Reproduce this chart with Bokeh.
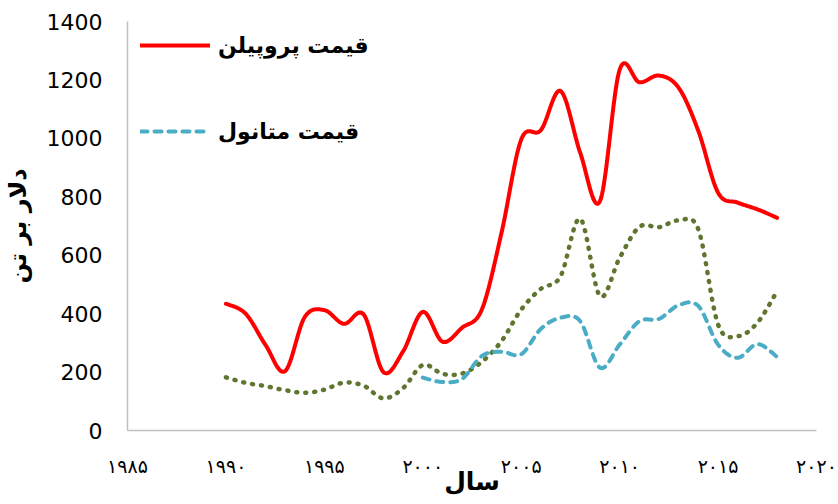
import numpy as np
from bokeh.plotting import figure
from bokeh.models import Range1d, FixedTicker, Legend, LegendItem
from bokeh.embed import file_html
from bokeh.resources import INLINE

# ---- data ----
years = list(range(1990, 2019))
propylene = [434, 400, 294, 203, 388, 412, 365, 397, 200, 271, 406, 304, 352, 414,
             677, 996, 1028, 1162, 950, 785, 1235, 1192, 1215, 1173, 1025, 814, 780, 757, 728]
other = [182, 163, 152, 138, 129, 140, 164, 153, 110, 145, 224, 194, 195, 235,
         306, 414, 485, 528, 725, 460, 591, 697, 696, 719, 688, 363, 323, 369, 477]
methanol_years = list(range(2000, 2019))
methanol = [181, 166, 177, 255, 270, 261, 348, 386, 374, 215, 294, 374, 382, 429, 426,
            294, 249, 296, 252]

x_ticks = [1985, 1990, 1995, 2000, 2005, 2010, 2015, 2020]
x_tick_labels = ["۱۹۸۵", "۱۹۹۰", "۱۹۹۵", "۲۰۰۰", "۲۰۰۵", "۲۰۱۰", "۲۰۱۵", "۲۰۲۰"]
y_ticks = [0, 200, 400, 600, 800, 1000, 1200, 1400]

name_propylene = "قیمت پروپیلن"
name_methanol = "قیمت متانول"
x_title = "سال"
y_title = "دلار بر تن"


def smooth(xs, ys, n=20):
    """Excel-style smoothed line (Bezier through the data points) for drawing."""
    xs = np.asarray(xs, float)
    ys = np.asarray(ys, float)
    N = len(xs)
    ox, oy = [], []
    for i in range(N - 1):
        i0, i3 = max(i - 1, 0), min(i + 2, N - 1)
        p0 = np.array([xs[i0], ys[i0]])
        p1 = np.array([xs[i], ys[i]])
        p2 = np.array([xs[i + 1], ys[i + 1]])
        p3 = np.array([xs[i3], ys[i3]])
        c1 = p1 + (p2 - p0) / 6.0
        c2 = p2 - (p3 - p1) / 6.0
        ts = np.linspace(0, 1, n, endpoint=(i == N - 2))
        for t in ts:
            b = ((1 - t) ** 3) * p1 + 3 * ((1 - t) ** 2) * t * c1 + 3 * (1 - t) * t * t * c2 + t ** 3 * p2
            ox.append(b[0])
            oy.append(b[1])
    return ox, oy


p = figure(width=838, height=504, output_backend="svg", toolbar_location=None,
           x_range=Range1d(1985, 2020), y_range=Range1d(0, 1400),
           min_border_left=127, min_border_right=22, min_border_top=21, min_border_bottom=74)
p.outline_line_color = None
p.grid.grid_line_color = None
p.background_fill_color = "white"
p.border_fill_color = "white"

gx, gy = smooth(years, other)
p.line(gx, gy, line_color="#5F7530", line_width=4.5, line_dash="1 8", line_cap="round")

mx, my = smooth(methanol_years, methanol)
r_meth = p.line(mx, my, line_color="#4BACC6", line_width=4, line_dash="7 7", line_cap="round")

px, py = smooth(years, propylene)
r_prop = p.line(px, py, line_color="#FF0000", line_width=4, line_join="round", line_cap="round")

# axes
xa = p.xaxis[0]
xa.ticker = FixedTicker(ticks=x_ticks)
xa.major_label_overrides = {t: l for t, l in zip(x_ticks, x_tick_labels)}
xa.major_tick_line_color = None
xa.minor_tick_line_color = None
xa.major_tick_out = 0
xa.axis_line_color = "#BFBFBF"
xa.axis_line_width = 1.5
xa.major_label_text_font = "DejaVu Sans"
xa.major_label_text_font_size = "19px"
xa.major_label_text_color = "black"
xa.major_label_standoff = 24
xa.axis_label = x_title
xa.axis_label_text_font = "DejaVu Sans"
xa.axis_label_text_font_style = "bold"
xa.axis_label_text_font_size = "25px"
xa.axis_label_text_color = "black"
xa.axis_label_standoff = -13

ya = p.yaxis[0]
ya.ticker = FixedTicker(ticks=y_ticks)
ya.major_tick_line_color = None
ya.minor_tick_line_color = None
ya.major_tick_out = 0
ya.axis_line_color = "#BFBFBF"
ya.axis_line_width = 1.5
ya.major_label_text_font = "DejaVu Sans"
ya.major_label_text_font_size = "22px"
ya.major_label_text_color = "black"
ya.major_label_standoff = 25
ya.axis_label = y_title
ya.axis_label_text_font = "DejaVu Sans"
ya.axis_label_text_font_style = "bold"
ya.axis_label_text_font_size = "24px"
ya.axis_label_text_color = "black"
ya.axis_label_standoff = 12

legend = Legend(items=[LegendItem(label=name_propylene, renderers=[r_prop]),
                       LegendItem(label=name_methanol, renderers=[r_meth])],
                location=(13, 284))
legend.padding = 0
legend.margin = 0
legend.spacing = 56
legend.glyph_width = 70
legend.glyph_height = 6
legend.label_height = 30
legend.label_standoff = 8
legend.label_text_font = "DejaVu Sans"
legend.label_text_font_style = "bold"
legend.label_text_font_size = "22px"
legend.label_text_color = "black"
legend.border_line_color = None
legend.background_fill_alpha = 0
p.add_layout(legend, "center")

open("out.html", "w").write(file_html(p, INLINE))
